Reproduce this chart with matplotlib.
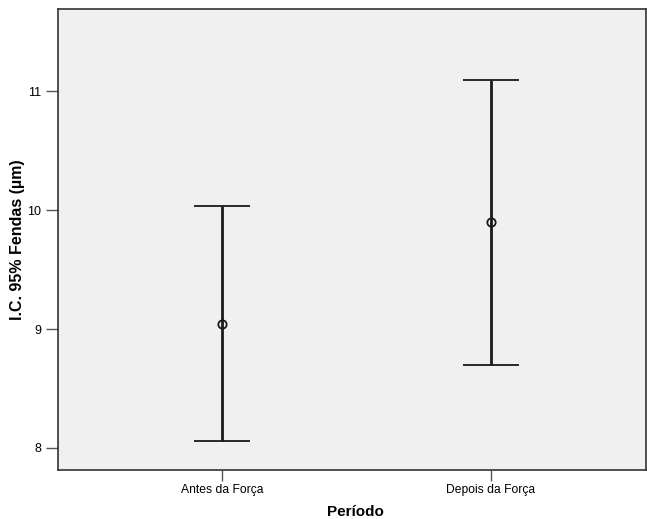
import matplotlib
matplotlib.use("Agg")
import matplotlib.pyplot as plt

# data
periods = ["Antes da Força", "Depois da Força"]
means = [9.04, 9.90]
lower = [8.06, 8.70]
upper = [10.03, 11.09]

plt.rcParams["font.family"] = ["Liberation Sans", "DejaVu Sans"]

fig = plt.figure(figsize=(6.47, 5.19), dpi=100)
ax = fig.add_axes([58 / 647, 1 - 470 / 519, (646 - 58) / 647, (470 - 9) / 519])
ax.set_facecolor("#f0f0f0")

x = list(range(len(periods)))
yerr = [[m - lo for m, lo in zip(means, lower)],
        [up - m for m, up in zip(means, upper)]]
ax.errorbar(x, means, yerr=yerr, fmt="o", color="#1a1a1a",
            mfc="none", mec="#1a1a1a", ms=6, mew=1.3,
            elinewidth=2, capsize=20, capthick=2)

ax.set_xlim(-0.61, 1.577)
ax.set_ylim(7.815, 11.69)
ax.set_xticks(x)
ax.set_xticklabels(periods)
ax.set_yticks([8, 9, 10, 11])
ax.set_yticklabels(["8", "9", "10", "11"])
ax.tick_params(axis="y", length=9, width=1, color="#555555", labelsize=9, pad=3)
ax.tick_params(axis="x", length=8, width=1, color="#555555", labelsize=8.7, pad=2)

for s in ax.spines.values():
    s.set_color("#333333")
    s.set_linewidth(1.2)

ax.set_xlabel("Período", fontsize=11, fontweight="bold")
ax.set_ylabel("I.C. 95% Fendas (µm)", fontsize=11.5, fontweight="bold")
ax.xaxis.set_label_coords(0.505, -0.077)
ax.yaxis.set_label_coords(-0.056, 0.5)

plt.savefig("out.png", dpi=100)
plt.close(fig)
